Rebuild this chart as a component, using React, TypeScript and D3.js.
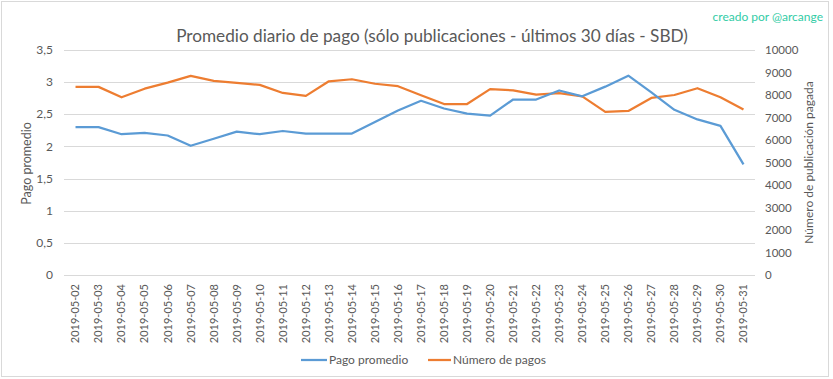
import React from "react";
import * as d3 from "d3";

const dates = [
  "2019-05-02","2019-05-03","2019-05-04","2019-05-05","2019-05-06","2019-05-07","2019-05-08","2019-05-09","2019-05-10","2019-05-11",
  "2019-05-12","2019-05-13","2019-05-14","2019-05-15","2019-05-16","2019-05-17","2019-05-18","2019-05-19","2019-05-20","2019-05-21",
  "2019-05-22","2019-05-23","2019-05-24","2019-05-25","2019-05-26","2019-05-27","2019-05-28","2019-05-29","2019-05-30","2019-05-31",
];
const pagoPromedio = [
  2.30, 2.30, 2.19, 2.21, 2.17, 2.01, 2.12, 2.23, 2.19, 2.24,
  2.20, 2.20, 2.20, 2.38, 2.56, 2.71, 2.59, 2.51, 2.48, 2.73,
  2.73, 2.87, 2.78, 2.93, 3.10, 2.84, 2.57, 2.42, 2.32, 1.72,
];
const numeroPagos = [
  8360, 8360, 7900, 8280, 8550, 8850, 8630, 8540, 8450, 8090,
  7960, 8610, 8700, 8500, 8390, 7990, 7600, 7600, 8260, 8210,
  8020, 8080, 7940, 7250, 7290, 7870, 8000, 8300, 7900, 7360,
];
const leftTicks = [0, 0.5, 1, 1.5, 2, 2.5, 3, 3.5];
const rightTicks = [0, 1000, 2000, 3000, 4000, 5000, 6000, 7000, 8000, 9000, 10000];
const title = "Promedio diario de pago (sólo publicaciones - últimos 30 días - SBD)";
const leftTitle = "Pago promedio";
const rightTitle = "Número de publicación pagada";
const seriesNames = ["Pago promedio", "Número de pagos"];
const credit = "creado por @arcange";

const W = 833, H = 379;
const M = { left: 64, right: 755, top: 50, bottom: 275 };
const FONT = "Lato, 'Open Sans', sans-serif";
const TXT = "#595959";
const BLUE = "#5b9bd5";
const ORANGE = "#ed7d31";

export default function App() {
  const x = d3.scaleBand<string>().domain(dates).range([M.left, M.right]);
  const yL = d3.scaleLinear().domain([0, 3.5]).range([M.bottom, M.top]);
  const yR = d3.scaleLinear().domain([0, 10000]).range([M.bottom, M.top]);
  const cx = (d: string) => (x(d) as number) + x.bandwidth() / 2;
  const lineL = d3.line<number>().x((_, i) => cx(dates[i])).y((v) => yL(v));
  const lineR = d3.line<number>().x((_, i) => cx(dates[i])).y((v) => yR(v));

  return (
    <svg width={W} height={H} style={{ position: "absolute", left: 0, top: 0, background: "#fff" }} fontFamily={FONT}>
      <rect x={0} y={0} width={W} height={H} fill="#fff" />
      <rect x={1.5} y={1.5} width={827} height={375} fill="none" stroke="#d9d9d9" strokeWidth={1} />
      <text x={823} y={21} textAnchor="end" fontSize={12} fill="#33cca6">{credit}</text>
      <text x={432} y={42} textAnchor="middle" fontSize={17.2} fill={TXT}>{title}</text>
      {leftTicks.map((t) => (
        <g key={"l" + t}>
          <line x1={M.left} x2={M.right} y1={Math.round(yL(t)) + 0.5} y2={Math.round(yL(t)) + 0.5} stroke="#d9d9d9" strokeWidth={1} />
          <text x={53} y={yL(t)} dy="0.35em" textAnchor="end" fontSize={12} fill={TXT}>{String(t).replace(".", ",")}</text>
        </g>
      ))}
      {rightTicks.map((t) => (
        <text key={"r" + t} x={765} y={yR(t)} dy="0.35em" textAnchor="start" fontSize={11.5} fill={TXT}>{t}</text>
      ))}
      <text transform={`translate(27,${(M.top + M.bottom) / 2 + 1}) rotate(-90)`} dy="0.35em" textAnchor="middle" fontSize={12.5} fill={TXT}>{leftTitle}</text>
      <text transform={`translate(809,${(M.top + M.bottom) / 2}) rotate(-90)`} dy="0.35em" textAnchor="middle" fontSize={12} fill={TXT}>{rightTitle}</text>
      {dates.map((d) => (
        <text key={d} transform={`translate(${cx(d)},284) rotate(-90)`} dy="0.35em" textAnchor="end" fontSize={11} fill={TXT}>{d}</text>
      ))}
      <path d={lineR(numeroPagos) || ""} fill="none" stroke={ORANGE} strokeWidth={2.25} strokeLinejoin="round" />
      <path d={lineL(pagoPromedio) || ""} fill="none" stroke={BLUE} strokeWidth={2.25} strokeLinejoin="round" />
      <line x1={301} x2={327} y1={360} y2={360} stroke={BLUE} strokeWidth={2.25} />
      <text x={329} y={360} dy="0.35em" fontSize={12} fill={TXT}>{seriesNames[0]}</text>
      <line x1={428} x2={451} y1={360} y2={360} stroke={ORANGE} strokeWidth={2.25} />
      <text x={453} y={360} dy="0.35em" fontSize={12} fill={TXT}>{seriesNames[1]}</text>
    </svg>
  );
}
